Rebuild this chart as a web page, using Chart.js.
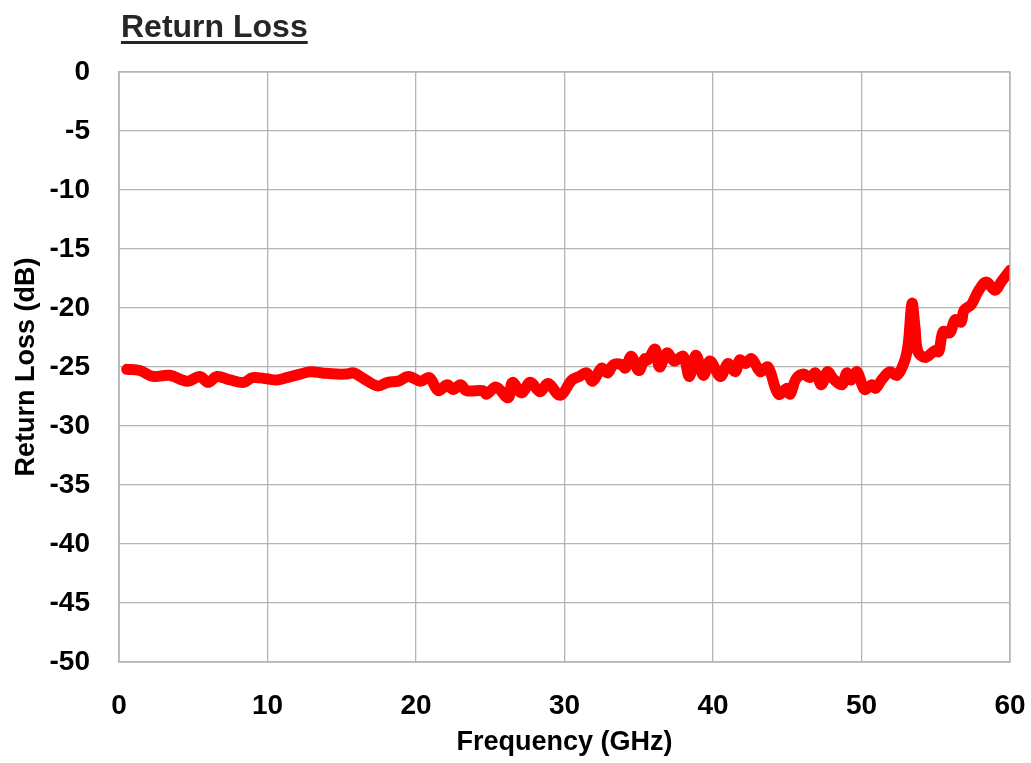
<!DOCTYPE html>
<html>
<head>
<meta charset="utf-8">
<script src="https://cdn.jsdelivr.net/npm/chart.js@4/dist/chart.umd.min.js"></script>
<style>
  body { margin: 0; background: #fff; }
  #wrap { position: relative; width: 1031px; height: 763px; }
  #title {
    position: absolute; left: 121px; top: 8px;
    font: bold 32px "Liberation Sans", Arial, sans-serif;
    color: #262626; text-decoration: underline; text-underline-offset: 4px;
  }
</style>
</head>
<body>
<div id="wrap">
  <canvas id="rl" width="1031" height="763"></canvas>
  <div id="title">Return Loss</div>
</div>
<script>
// values
var freqGHz = [0.52, 1.4, 2.3, 3.4, 4.6, 5.45, 6.0, 6.6, 7.5, 8.4, 9.0, 9.95, 10.6, 11.3, 12.2, 12.9, 13.7, 14.65, 15.3, 15.8,
  16.5, 17.4, 18.1, 18.8, 19.5, 20.3, 20.9, 21.5, 22.1, 22.5, 23.0, 23.4, 24.5, 24.75, 25.4, 26.2, 26.5, 27.1, 27.7, 28.35,
  28.9, 29.7, 30.5, 31.0, 31.5, 31.9, 32.5, 32.9, 33.3, 33.85, 34.1, 34.5, 35.0, 35.4, 35.6, 36.1, 36.4, 36.9, 37.4, 38.0,
  38.4, 38.85, 39.35, 39.8, 40.5, 41.0, 41.5, 41.8, 42.2, 42.6, 43.2, 43.7, 44.4, 45.0, 45.2, 45.6, 46.1, 46.5, 46.9, 47.3,
  47.7, 48.1, 48.7, 49.0, 49.3, 49.7, 50.2, 50.7, 50.95, 51.35, 51.9, 52.4, 52.9, 53.15, 53.4, 53.6, 53.8, 54.3, 54.95, 55.2,
  55.5, 55.95, 56.3, 56.7, 56.9, 57.4, 57.85, 58.4, 59.0, 59.4, 60.0];
var returnLossDb = [-25.2, -25.3, -25.8, -25.7, -26.2, -25.8, -26.3, -25.8, -26.1, -26.3, -25.9, -26.0, -26.1, -25.9, -25.6, -25.4, -25.5, -25.6, -25.6, -25.5,
  -26.0, -26.6, -26.3, -26.2, -25.8, -26.2, -25.9, -27.0, -26.5, -26.9, -26.5, -27.0, -27.0, -27.3, -26.7, -27.6, -26.3, -27.2, -26.3, -27.1,
  -26.4, -27.4, -26.1, -25.8, -25.5, -26.2, -25.1, -25.5, -24.8, -24.8, -25.1, -24.1, -25.3, -24.3, -24.4, -23.5, -25.0, -23.8, -24.5, -24.1,
  -25.8, -24.0, -25.7, -24.5, -25.8, -24.7, -25.4, -24.4, -24.7, -24.3, -25.4, -25.0, -27.3, -26.8, -27.3, -26.0, -25.6, -25.9, -25.5, -26.5,
  -25.4, -26.0, -26.5, -25.5, -26.1, -25.4, -26.9, -26.5, -26.8, -26.1, -25.4, -25.7, -24.5, -23.0, -19.6, -21.6, -23.7, -24.2, -23.6, -23.7,
  -22.0, -22.1, -21.0, -21.2, -20.2, -19.7, -18.6, -17.8, -18.5, -17.8, -16.8];
var xTicks = [0, 10, 20, 30, 40, 50, 60];
var yTicks = [0, -5, -10, -15, -20, -25, -30, -35, -40, -45, -50];

var pts = freqGHz.map(function(f, i) { return { x: f, y: returnLossDb[i] }; });
var gridCol = '#b4b4b4';
var tickFont = { family: '"Liberation Sans", Arial, sans-serif', size: 28, weight: 'bold' };
var titleFont = { family: '"Liberation Sans", Arial, sans-serif', size: 27, weight: 'bold' };

var chart = new Chart(document.getElementById('rl').getContext('2d'), {
    type: 'line',
    data: {
        datasets: [{
            label: 'Return Loss',
            data: pts,
            borderColor: '#ff0000',
            borderWidth: 11,
            pointRadius: 0,
            tension: 0.35,
            borderCapStyle: 'round',
            borderJoinStyle: 'round',
            fill: false
        }]
    },
    options: {
        responsive: false,
        animation: false,
        layout: { padding: { top: 72, right: 21, left: 0, bottom: 0 } },
        plugins: { legend: { display: false }, tooltip: { enabled: false } },
        scales: {
            x: {
                type: 'linear', min: 0, max: 60,
                afterBuildTicks: function(s) { s.ticks = xTicks.map(function(v) { return { value: v }; }); },
                afterFit: function(s) { s.height = 101; s.paddingLeft = 0; s.paddingRight = 0; },
                grid: { color: gridCol, lineWidth: 1.3, drawTicks: false },
                border: { color: gridCol, width: 1.3 },
                ticks: { color: '#000', font: tickFont, padding: 27, maxRotation: 0 },
                title: { display: true, text: 'Frequency (GHz)', color: '#000', font: titleFont, padding: { top: 6 } }
            },
            y: {
                type: 'linear', min: -50, max: 0,
                afterBuildTicks: function(s) { s.ticks = yTicks.map(function(v) { return { value: v }; }); },
                afterFit: function(s) { s.width = 119; s.paddingTop = 0; s.paddingBottom = 0; },
                grid: { color: gridCol, lineWidth: 1.3, drawTicks: false },
                border: { color: gridCol, width: 1.3 },
                ticks: { color: '#000', font: tickFont, padding: 29 },
                title: { display: true, text: 'Return Loss (dB)', color: '#000', font: titleFont, padding: { bottom: 0, top: 10 } }
            }
        }
    },
    plugins: [{
        id: 'frame',
        afterDraw: function(c) {
            var a = c.chartArea, g = c.ctx;
            g.save();
            g.strokeStyle = gridCol;
            g.lineWidth = 1.3;
            g.strokeRect(a.left, a.top, a.right - a.left, a.bottom - a.top);
            g.restore();
        }
    }]
});
</script>
</body>
</html>
